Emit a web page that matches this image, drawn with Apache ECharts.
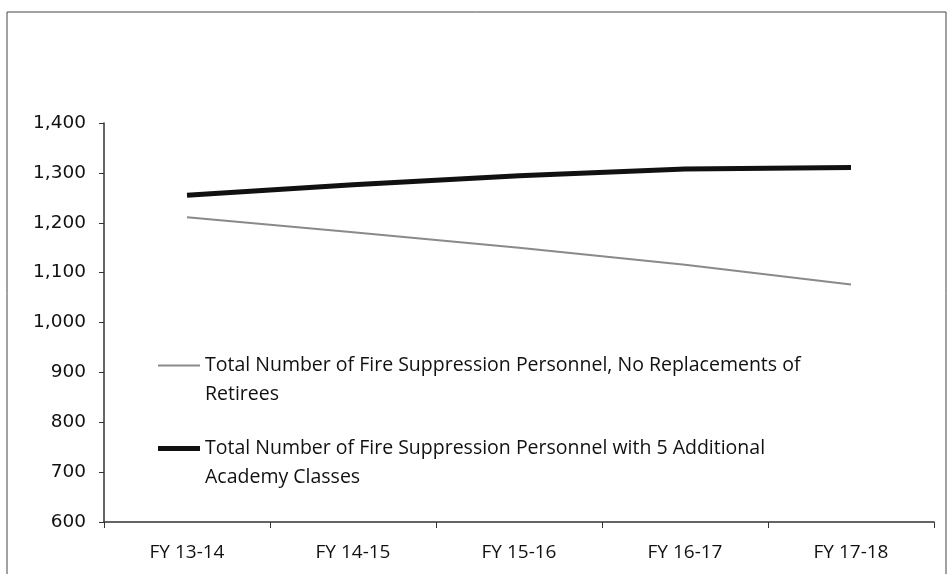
<!DOCTYPE html>
<html>
<head>
<meta charset="utf-8">
<script src="https://cdn.jsdelivr.net/npm/echarts@6/dist/echarts.min.js"></script>
<style>
  html, body { margin: 0; padding: 0; background: #fff; }
  #chart { width: 951px; height: 574px; }
</style>
</head>
<body>
<div id="chart"></div>
<script>
// categories and values
var categories = ['FY 13-14', 'FY 14-15', 'FY 15-16', 'FY 16-17', 'FY 17-18']
var noReplacement = [1211, 1181, 1150, 1116, 1076]
var withAcademy = [1255, 1276, 1294, 1308, 1311]
var seriesNames = [
  'Total Number of Fire Suppression Personnel, No Replacements of\nRetirees',
  'Total Number of Fire Suppression Personnel with 5 Additional\nAcademy Classes'
]
var yMin = 600
var yMax = 1400
var yStep = 100

var myChart = echarts.init(document.getElementById('chart'))

function legendBox (name, top, thick, color) {
  return {
    data: [name],
    orient: 'vertical',
    left: 158,
    top: top,
    icon: 'rect',
    itemWidth: 42,
    itemHeight: thick,
    itemStyle: { color: color },
    itemGap: 0,
    padding: 0,
    selectedMode: false,
    // blank first line so the icon sits next to the first line of text
    formatter: function (n) { return '\n' + n },
    textStyle: {
      fontFamily: 'Open Sans',
      fontSize: 19.5,
      lineHeight: 29,
      color: '#111'
    }
  }
}

myChart.setOption({
  animation: false,
  backgroundColor: '#fff',
  graphic: [
    {
      type: 'rect',
      shape: { x: 7, y: 12, width: 939, height: 600 },
      style: { fill: 'none', stroke: '#444', lineWidth: 1 },
      silent: true
    }
  ],
  legend: [
    legendBox(seriesNames[0], 322, 2, '#8a8a8a'),
    legendBox(seriesNames[1], 405, 5, '#111')
  ],
  grid: {
    left: 104,
    right: 17,
    top: 123,
    bottom: 52,
    containLabel: false
  },
  xAxis: {
    type: 'category',
    data: categories,
    boundaryGap: true,
    axisLine: { lineStyle: { color: '#333', width: 1.5 } },
    axisTick: { show: true, length: 6, lineStyle: { color: '#333' } },
    axisLabel: {
      fontFamily: 'Open Sans',
      fontSize: 19,
      color: '#111',
      margin: 21
    },
    splitLine: { show: false }
  },
  yAxis: {
    type: 'value',
    min: yMin,
    max: yMax,
    interval: yStep,
    axisLine: { show: true, lineStyle: { color: '#333', width: 1.5 } },
    axisTick: { show: true, length: 5, lineStyle: { color: '#333' } },
    axisLabel: {
      fontFamily: 'DejaVu Sans',
      fontSize: 18.5,
      color: '#111',
      margin: 18,
      formatter: function (v) {
        return v.toString().replace(/\B(?=(\d{3})+(?!\d))/g, ',')
      }
    },
    splitLine: { show: false }
  },
  series: [
    {
      name: seriesNames[0],
      type: 'line',
      symbol: 'none',
      color: '#8a8a8a',
      lineStyle: { width: 2, color: '#8a8a8a' },
      data: noReplacement
    },
    {
      name: seriesNames[1],
      type: 'line',
      symbol: 'none',
      color: '#111',
      lineStyle: { width: 5, color: '#111' },
      data: withAcademy
    }
  ]
})
</script>
</body>
</html>
